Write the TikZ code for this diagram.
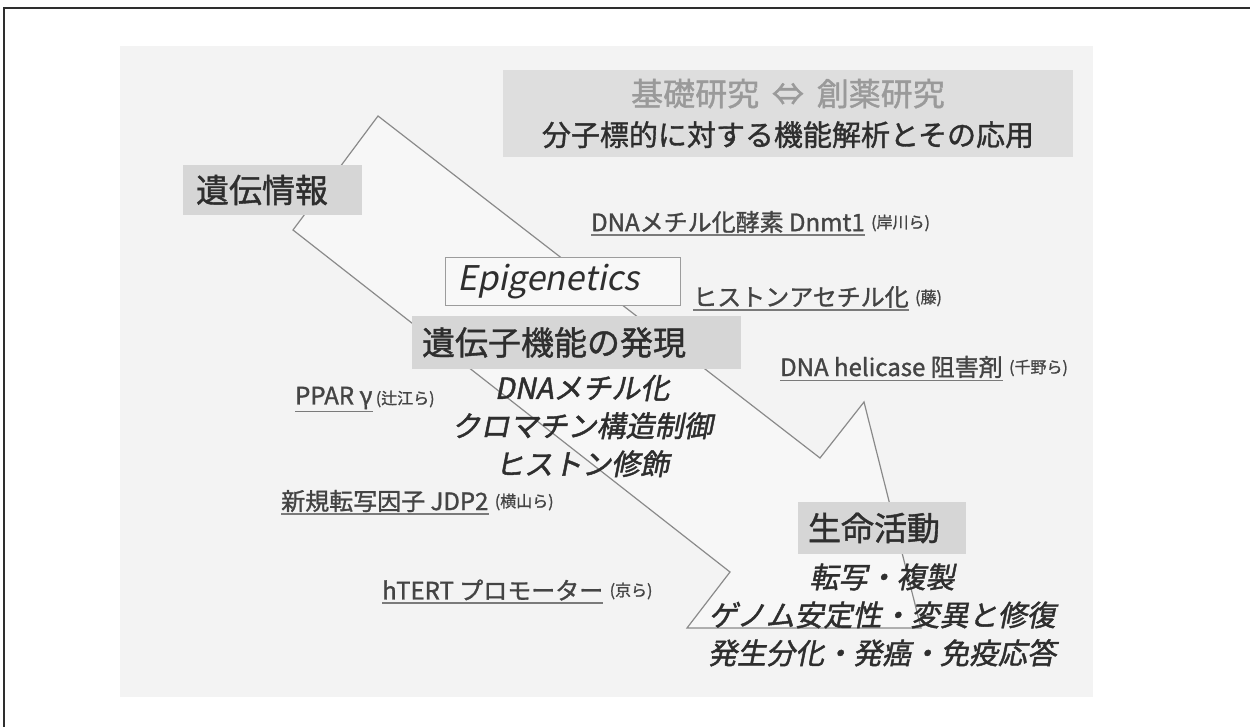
\documentclass[tikz,border=0pt]{standalone}
\usepackage{fontspec}
\setmainfont[FakeBold=1.2]{Noto Sans CJK JP}
\newfontfamily\slfont[FakeSlant=0.2,FakeBold=1.5]{Noto Sans CJK JP}
\newfontfamily\epifont[FakeSlant=0.2]{Noto Sans CJK JP}
\definecolor{bgin}{HTML}{F3F3F3}
\definecolor{arrowfill}{HTML}{F7F7F7}
\definecolor{arrowgray}{HTML}{8A8A8A}
\definecolor{boxgray}{HTML}{D6D6D6}
\definecolor{topgray}{HTML}{DEDEDE}
\definecolor{topgraytext}{HTML}{9A9A9A}
\definecolor{textdark}{HTML}{2E2E2E}
\definecolor{labeltext}{HTML}{444444}
\definecolor{ulgray}{HTML}{7A7A7A}
\definecolor{epiborder}{HTML}{9C9C9C}
\definecolor{epifill}{HTML}{F8F8F8}
\tikzset{
  graybox/.style={fill=boxgray, draw=none, inner ysep=0pt, inner xsep=10pt, align=left,
    font=\fontsize{33}{36}\selectfont, text=textdark},
  lbl/.style={anchor=west, inner sep=0pt, font=\fontsize{24}{27}\selectfont, text=labeltext},
  paren/.style={anchor=west, inner sep=0pt, font=\fontsize{16}{18}\selectfont, text=labeltext},
  uline/.style={draw=ulgray, line width=1.6pt},
  arrowline/.style={draw=arrowgray, line width=1.2pt, fill=arrowfill, line join=miter},
  itlines/.style={align=center, inner sep=0pt, font=\slfont\fontsize{29}{38}\selectfont, text=textdark},
}
\begin{document}
\begin{tikzpicture}[x=1pt,y=-1pt]
\useasboundingbox (0,0) rectangle (1250,727);
% outer frame
\draw[line width=1.5pt, draw=textdark] (4,727) -- (4,8) -- (1250,8);
% inner background
\fill[bgin] (120,46) rectangle (1093,697);
% big arrow outline
\draw[arrowline] (378,116) -- (820,458) -- (864,402) -- (921,628) -- (687,628) -- (730,572) -- (293,230) -- cycle;
% top box
\node[fill=topgray, minimum width=570pt, minimum height=87pt, align=center, inner sep=0pt,
  font=\fontsize{29}{40}\selectfont, text=textdark] (top) at (788,113.5)
  {{\color{topgraytext}\fontsize{32}{40}\selectfont 基礎研究\hspace{0.4em}⇔\hspace{0.4em}創薬研究}\\分子標的に対する機能解析とその応用};
% gray boxes
\node[graybox, minimum height=50pt, inner xsep=13pt, text width=153pt] (gi) at (272.5,190) {遺伝情報};
\node[graybox, minimum height=53pt, text width=309pt] (gf) at (576.5,342.5) {遺伝子機能の発現};
\node[graybox, minimum height=52pt, text width=148pt] (sk) at (882,528) {生命活動};
% Epigenetics box
\node[draw=epiborder, fill=epifill, line width=1pt, minimum height=48pt, text width=211pt,
  inner xsep=12pt, inner ysep=0pt, align=left, font=\epifont\fontsize{34}{36}\selectfont,
  text=textdark] (epi) at (562.5,282) {Epigenetics};
% italic lists
\node[itlines] (gfl) at (582,426) {DNAメチル化\\クロマチン構造制御\\ヒストン修飾};
\node[itlines] (skl) at (882,615) {転写・複製\\ゲノム安定性・変異と修復\\発生分化・発癌・免疫応答};
% underlined labels
\node[lbl] (l1) at (591,222) {DNAメチル化酵素 Dnmt1};
\node[paren] (p1) at ([xshift=6pt,yshift=-1pt]l1.east) {(岸川ら)};
\node[lbl] (l2) at (693,297) {ヒストンアセチル化};
\node[paren] (p2) at ([xshift=6pt,yshift=-1pt]l2.east) {(藤)};
\node[lbl] (l3) at (780,367) {DNA helicase 阻害剤};
\node[paren] (p3) at ([xshift=6pt,yshift=-1pt]l3.east) {(千野ら)};
\node[lbl] (l4) at (295,398) {PPAR γ};
\node[paren] (p4) at ([xshift=3pt,yshift=-1pt]l4.east) {(辻江ら)};
\node[lbl] (l5) at (281,501) {新規転写因子 JDP2};
\node[paren] (p5) at ([xshift=6pt,yshift=-1pt]l5.east) {(横山ら)};
\node[lbl] (l6) at (382,590) {hTERT プロモーター};
\node[paren] (p6) at ([xshift=6pt,yshift=-1pt]l6.east) {(京ら)};
\foreach \n in {l1,l2,l3,l4,l5,l6}{
  \draw[uline] ([yshift=-2pt]\n.south west) -- ([yshift=-2pt]\n.south east);
}
\end{tikzpicture}
\end{document}
